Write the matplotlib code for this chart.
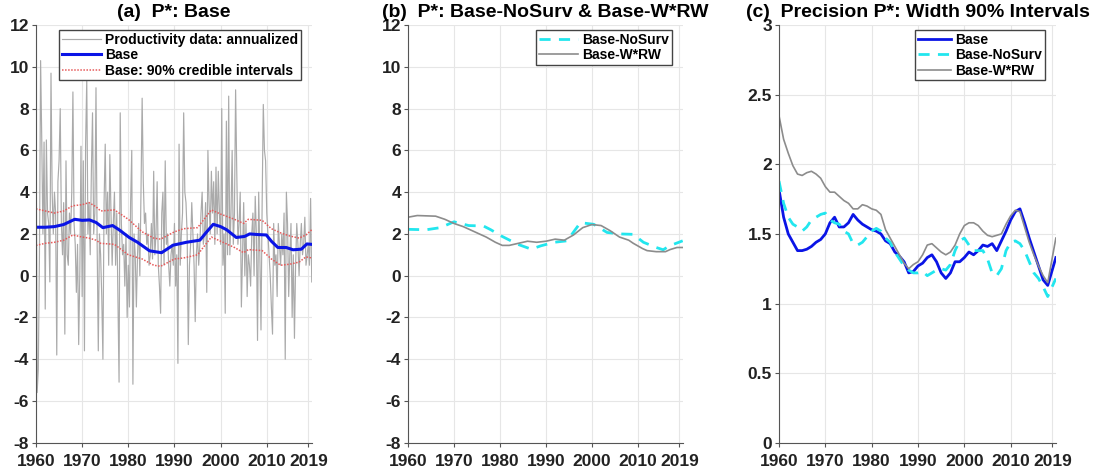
import matplotlib.pyplot as plt
import numpy as np

plt.rcParams["font.family"] = ["Liberation Sans", "DejaVu Sans"]
plt.rcParams["font.weight"] = "bold"

# Productivity data (annualized), quarterly 1960Q1..2019Q4
prod = [
    9.2, -5.6, -4.5, 1.0, 10.3, 6.5, 2.0, 6.4, -1.6, 6.5, 3.0, 2.5,
    -0.3, 9.7, 4.0, 2.0, 4.0, 3.0, -3.8, 4.5, 5.5, 8.0, 2.5, 1.0,
    3.5, -2.8, 5.5, 1.0, 0.5, 3.0, 2.0, 4.0, 8.8, 2.5, 1.5, -0.8,
    1.5, -3.3, 0.2, 6.2, -1.0, 5.5, -3.6, 6.3, 9.4, 2.0, 3.5, 1.0,
    5.0, 7.8, 2.0, 3.0, 9.0, 1.5, -3.6, 2.0, 1.0, -1.0, -4.0, 3.5,
    6.3, 2.0, 4.0, 0.5, 5.8, 3.0, 0.5, 2.5, 4.0, 0.5, 3.0, -1.0,
    -5.1, 7.8, 2.5, 1.0, 1.5, -0.5, 2.0, -2.0, 0.5, -1.5, 3.5, 6.0,
    -5.2, 2.0, 1.0, -1.5, 1.0, 2.5, 0.0, 4.0, 8.5, 4.5, 2.5, 3.0,
    1.5, 2.0, 0.5, 1.0, 2.5, 0.8, 5.0, 1.0, 2.0, 4.5, 0.5, -0.5,
    -1.8, 3.0, 4.0, 0.5, 5.5, 1.5, 2.0, 0.5, -0.5, 1.0, 1.5, 0.5,
    2.5, -0.5, 1.0, -4.2, 6.3, 0.5, 2.0, 3.0, 7.8, 4.0, 3.5, 2.0,
    -3.3, 0.5, 1.5, 3.5, 2.0, 0.5, -2.2, 1.0, 2.0, 0.5, 1.5, 3.0,
    4.0, 1.5, 2.0, 3.5, -0.8, 6.0, 3.5, 2.0, 5.0, 3.0, 4.5, 1.5,
    5.2, 2.0, 5.0, 3.0, 1.5, 8.0, 0.5, 2.0, -1.8, 7.4, 1.0, 8.6,
    1.0, 3.0, 6.0, 1.5, 3.0, 8.9, 5.0, 1.5, 2.5, 4.0, -1.5, 1.0,
    3.5, 0.0, 2.5, -1.0, 1.0, 0.5, -0.5, 2.0, 3.0, 0.0, 3.8, 2.0,
    -3.1, 4.0, 1.0, -2.6, 3.5, 8.2, 6.0, 5.5, 3.0, 2.0, 1.0, 0.0,
    -1.5, -2.8, 2.5, 0.5, 1.0, -1.0, 2.5, 1.5, 0.5, 2.0, 1.0, 3.0,
    -4.0, 4.0, 2.5, -1.0, 1.0, 2.5, -2.0, 1.0, -3.0, 0.5, 2.5, 1.5,
    0.0, 1.5, 2.5, 1.0, 1.5, 2.8, 0.5, 1.0, 1.5, 0.5, 3.7, -0.3,
]
t_prod = 1960 + np.arange(len(prod)) / 4

# P* Base and 90% bands
t_base = [1960, 1962, 1964, 1966, 1968.4, 1970, 1971.6, 1973, 1974.5, 1976.6, 1978,
          1980.2, 1982, 1984.6, 1987.2, 1989.7, 1992.6, 1995.5, 1997, 1998.4,
          2000, 2001.3, 2003.4, 2005.2, 2006.3, 2008, 2009.9, 2011, 2012.4,
          2014.2, 2015.7, 2017.5, 2018.7, 2019.75]
base = [2.32, 2.32, 2.35, 2.45, 2.7, 2.65, 2.67, 2.55, 2.3, 2.4, 2.2,
        1.83, 1.6, 1.19, 1.1, 1.46, 1.6, 1.7, 2.1, 2.46,
        2.35, 2.2, 1.83, 1.88, 2.0, 1.97, 1.95, 1.65, 1.35,
        1.35, 1.24, 1.27, 1.52, 1.5]
t_band = [1960, 1962, 1964, 1966, 1968, 1970, 1971.5, 1973, 1974, 1977, 1980, 1983,
          1985.5, 1987, 1990, 1992, 1995, 1998, 2000, 2003, 2005, 2006, 2009,
          2011, 2013, 2015, 2017, 2018.5, 2019.75]
upper = [3.2, 3.1, 3.0, 3.1, 3.35, 3.4, 3.5, 3.3, 3.1, 3.15, 2.7, 2.1,
         1.8, 1.75, 2.1, 2.25, 2.3, 3.15, 2.95, 2.7, 2.5, 2.7, 2.65,
         2.25, 2.05, 1.9, 1.8, 1.95, 2.2]
lower = [1.45, 1.55, 1.6, 1.7, 1.95, 1.85, 1.8, 1.7, 1.55, 1.5, 1.0, 0.8,
         0.5, 0.45, 0.8, 0.85, 1.0, 1.85, 1.65, 1.35, 1.1, 1.25, 1.2,
         0.8, 0.5, 0.55, 0.65, 0.9, 0.85]

# Panel (b)
t_nos = [1960, 1964, 1967, 1970, 1973.2, 1976.4, 1978, 1980.3, 1983.9, 1986.8, 1988.9,
         1991.8, 1994.6, 1997.5, 2000.4, 2003.3, 2006.1, 2009, 2011.2, 2014,
         2015.5, 2016.9, 2019.75]
nosurv = [2.22, 2.2, 2.3, 2.58, 2.4, 2.38, 2.2, 1.9, 1.5, 1.27, 1.43,
          1.6, 1.67, 2.54, 2.46, 2.07, 2.0, 1.98, 1.6, 1.35,
          1.24, 1.43, 1.67]
t_wrw = [1960, 1962, 1966, 1968, 1970, 1972, 1975, 1977, 1979, 1980.5, 1982, 1984,
         1986, 1988, 1990, 1992, 1994, 1996, 1998, 2000, 2002, 2004, 2006,
         2008, 2009, 2011, 2012, 2014, 2016, 2017, 2018.5, 2019.75]
wrw = [2.8, 2.88, 2.85, 2.7, 2.5, 2.35, 2.05, 1.85, 1.6, 1.45, 1.45, 1.55,
       1.65, 1.6, 1.65, 1.75, 1.7, 1.95, 2.3, 2.45, 2.4, 2.15, 1.85,
       1.7, 1.55, 1.3, 1.2, 1.15, 1.15, 1.25, 1.35, 1.35]

# Panel (c): widths of 90% intervals, annual
t_w = list(range(1960, 2019)) + [2019.75]
w_base = [1.82, 1.62, 1.5, 1.44, 1.38, 1.38, 1.39, 1.41, 1.44, 1.46,
          1.5, 1.58, 1.62, 1.55, 1.55, 1.58, 1.64, 1.6, 1.57, 1.55,
          1.53, 1.52, 1.5, 1.45, 1.43, 1.37, 1.34, 1.3, 1.22, 1.23,
          1.27, 1.29, 1.33, 1.35, 1.3, 1.22, 1.18, 1.22, 1.3, 1.3,
          1.33, 1.37, 1.35, 1.38, 1.42, 1.41, 1.43, 1.38, 1.45, 1.52,
          1.6, 1.66, 1.68, 1.58, 1.47, 1.37, 1.27, 1.17, 1.13, 1.33]
w_nosurv = [1.88, 1.72, 1.62, 1.57, 1.55, 1.52, 1.55, 1.6, 1.62, 1.64,
            1.65, 1.6, 1.58, 1.57, 1.52, 1.5, 1.43, 1.42, 1.44, 1.48,
            1.52, 1.54, 1.52, 1.47, 1.44, 1.37, 1.32, 1.27, 1.24, 1.22,
            1.22, 1.23, 1.2, 1.22, 1.24, 1.25, 1.24, 1.28, 1.38, 1.45,
            1.47, 1.42, 1.38, 1.38, 1.38, 1.32, 1.22, 1.2, 1.25, 1.38,
            1.44, 1.45, 1.43, 1.38, 1.3, 1.22, 1.18, 1.12, 1.05, 1.18]
w_wrw = [2.35, 2.18, 2.08, 1.99, 1.93, 1.92, 1.94, 1.95, 1.93, 1.9,
         1.84, 1.8, 1.8, 1.77, 1.74, 1.72, 1.68, 1.68, 1.71, 1.7,
         1.68, 1.67, 1.64, 1.53, 1.47, 1.41, 1.35, 1.29, 1.25, 1.28,
         1.3, 1.35, 1.42, 1.43, 1.4, 1.37, 1.35, 1.37, 1.42, 1.5,
         1.56, 1.58, 1.58, 1.56, 1.52, 1.49, 1.48, 1.49, 1.5, 1.57,
         1.63, 1.67, 1.66, 1.55, 1.44, 1.35, 1.27, 1.2, 1.15, 1.47]

xticks = [1960, 1970, 1980, 1990, 2000, 2010, 2019]
blue = "#0a14e6"
cyan = "#22e6ee"
gray = "#8c8c8c"

fig = plt.figure(figsize=(11.04, 4.74), dpi=100)
axa = fig.add_axes([0.0326, 0.066, 0.25, 0.881])
axb = fig.add_axes([0.3696, 0.066, 0.249, 0.881])
axc = fig.add_axes([0.7056, 0.066, 0.251, 0.881])


def style(ax, ylim, yticks):
    ax.set_xlim(1960, 2019.8)
    ax.set_ylim(*ylim)
    ax.set_xticks(xticks)
    ax.set_yticks(yticks)
    ax.set_yticklabels([f"{v:g}" for v in yticks])
    ax.grid(True, color="#e6e6e6", lw=0.8)
    ax.set_axisbelow(True)
    for s in ["top", "right"]:
        ax.spines[s].set_visible(False)
    for s in ["left", "bottom"]:
        ax.spines[s].set_color("#555555")
    ax.tick_params(labelsize=12.5, length=3, color="#555555", pad=2)
    ax.tick_params(axis="x", pad=5)
    for lab in ax.get_xticklabels() + ax.get_yticklabels():
        lab.set_fontweight("bold")
        lab.set_color("#222222")


leg_kw = dict(loc="upper right", prop={"weight": "bold", "size": 10},
              handletextpad=0.3, borderpad=0.2, labelspacing=0.1,
              fancybox=False, edgecolor="#444444", framealpha=1,
              bbox_to_anchor=(0.985, 1.005))

# (a)
axa.plot(t_prod, prod, color="#aaaaaa", lw=0.85, label="Productivity data: annualized")
axa.plot(t_base, base, color=blue, lw=2.2, label="Base")
axa.plot(t_band, upper, color="#e65a5a", lw=1.1, ls=(0, (1, 1)), label="Base: 90% credible intervals")
axa.plot(t_band, lower, color="#e65a5a", lw=1.1, ls=(0, (1, 1)))
style(axa, (-8, 12), range(-8, 13, 2))
axa.set_title("(a)  P*: Base", fontsize=14, fontweight="bold", pad=6)
axa.legend(handlelength=2.8, **leg_kw)

# (b)
axb.plot(t_nos, nosurv, color=cyan, lw=2.0, ls=(0, (4, 3)), label="Base-NoSurv")
axb.plot(t_wrw, wrw, color=gray, lw=1.2, label="Base-W*RW")
style(axb, (-8, 12), range(-8, 13, 2))
axb.set_title("(b)  P*: Base-NoSurv & Base-W*RW", fontsize=14, fontweight="bold", pad=6)
axb.legend(handlelength=2.8, **leg_kw)

# (c)
axc.plot(t_w, w_base, color=blue, lw=2.0, label="Base")
axc.plot(t_w, w_nosurv, color=cyan, lw=2.0, ls=(0, (4, 3)), label="Base-NoSurv")
axc.plot(t_w, w_wrw, color=gray, lw=1.2, label="Base-W*RW")
style(axc, (0, 3), [0, 0.5, 1, 1.5, 2, 2.5, 3])
axc.set_title("(c)  Precision P*: Width 90% Intervals", fontsize=14, fontweight="bold", pad=6)
axc.legend(handlelength=2.4, **leg_kw)

plt.savefig("out.png", dpi=100)
